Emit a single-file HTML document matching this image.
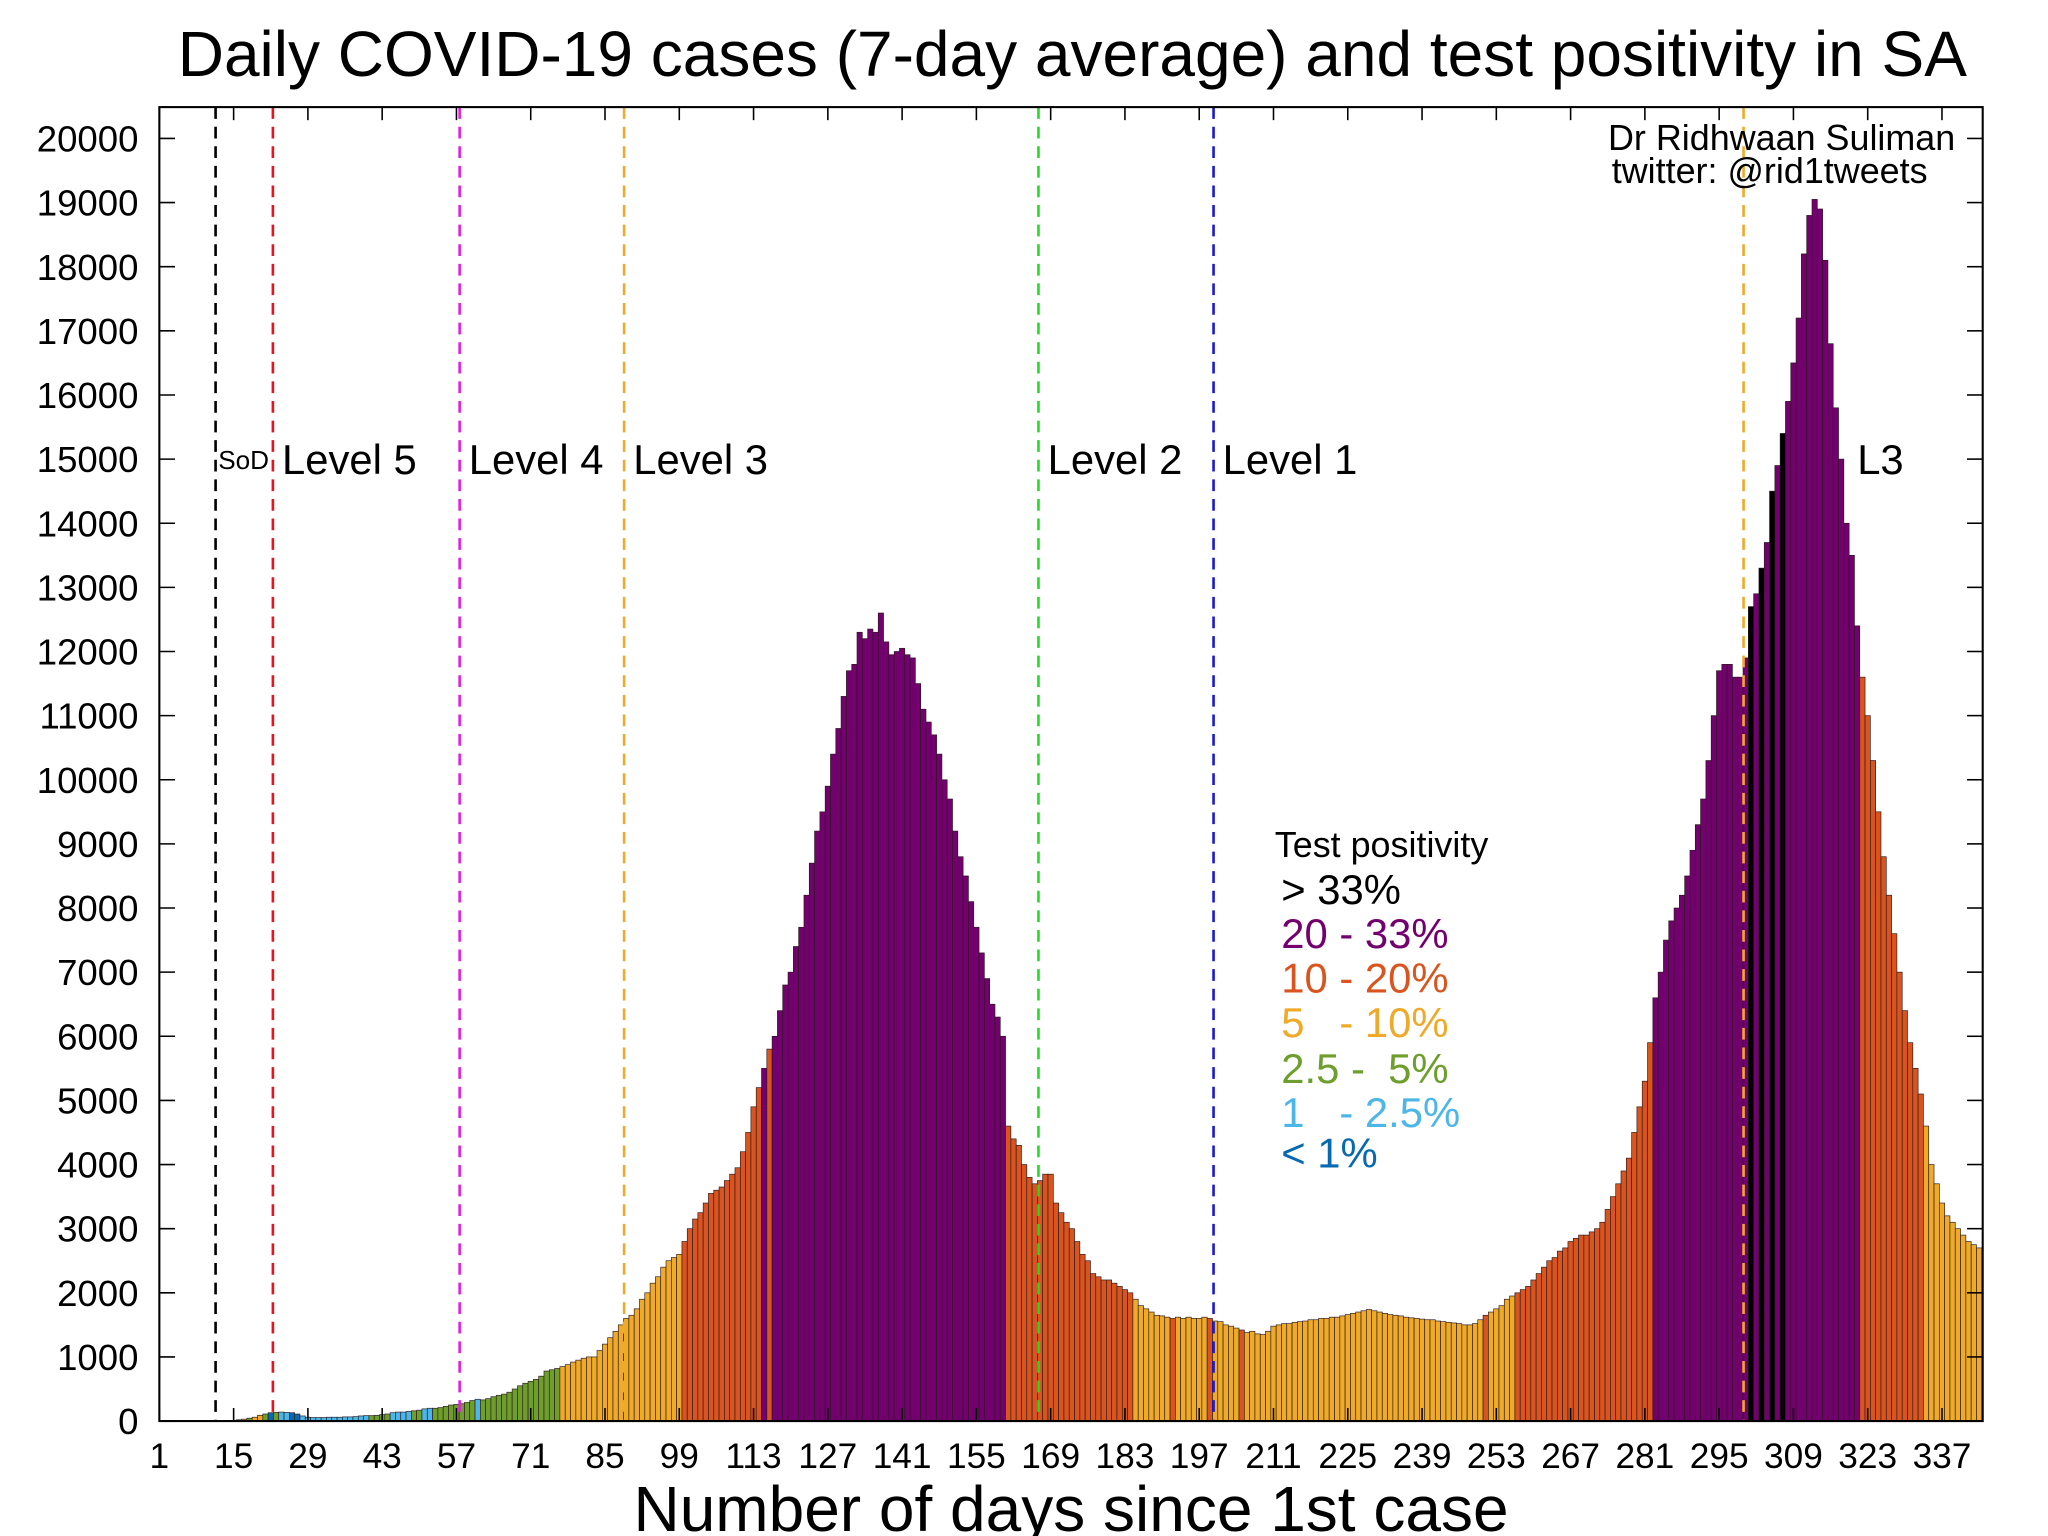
<!DOCTYPE html>
<html><head><meta charset="utf-8"><style>
html,body{margin:0;padding:0;background:#fff;}
svg{display:block;}
text{font-family:"Liberation Sans",sans-serif;fill:#000;}
</style></head><body>
<svg id="chart" width="2048" height="1536" viewBox="0 0 1568 1176" xmlns="http://www.w3.org/2000/svg">
<rect width="1568" height="1176" fill="#fff"/>
<text x="821" y="58" font-size="49" text-anchor="middle">Daily COVID-19 cases (7-day average) and test positivity in SA</text>
<g id="bars"></g>
<g id="vlines"></g>
<g id="axes"></g>
<text x="1497" y="115" font-size="27.5" text-anchor="end">Dr Ridhwaan Suliman</text>
<text x="1234" y="140" font-size="27.5">twitter: @rid1tweets</text>
<g font-size="32" style="white-space:pre">
<text x="976" y="656" font-size="27.5">Test positivity</text>
<text x="981" y="692" style="fill:#000">&gt; 33%</text>
<text x="981" y="726" style="fill:#73006e" xml:space="preserve">20 - 33%</text>
<text x="981" y="760" style="fill:#d9541e" xml:space="preserve">10 - 20%</text>
<text x="981" y="794" style="fill:#eeaa28" xml:space="preserve">5   - 10%</text>
<text x="981" y="829" style="fill:#6e9e2c" xml:space="preserve">2.5 -  5%</text>
<text x="981" y="863" style="fill:#4cb6e8" xml:space="preserve">1   - 2.5%</text>
<text x="981" y="894" style="fill:#0868b0" xml:space="preserve">&lt; 1%</text>
</g>
<text x="820" y="1172" font-size="49" text-anchor="middle">Number of days since 1st case</text>
</svg>
<script>
const cases = [0,0,0,0,0,0,0,0,0,0,0,0,5,5,10,20,30,45,60,90,110,130,135,140,135,130,110,80,60,55,
55,55,60,60,60,65,65,70,80,85,85,90,100,110,130,140,140,150,160,170,190,200,200,210,230,250,260,270,290,320,
340,330,350,380,400,420,450,500,550,590,620,650,700,780,800,820,850,880,920,950,980,1000,1000,1100,1200,1300,1400,1500,1600,1650,
1750,1900,2000,2150,2250,2400,2500,2550,2600,2800,3000,3150,3250,3400,3550,3600,3650,3750,3850,3950,4200,4500,4900,5200,5500,5800,6000,6400,6800,7000,
7400,7700,8200,8700,9200,9500,9900,10400,10800,11300,11700,11800,12300,12200,12350,12300,12600,12150,11950,12000,12050,11950,11900,11500,11100,10900,10700,10400,10000,9700,
9200,8800,8500,8100,7700,7300,6900,6500,6300,6000,4600,4400,4300,4000,3800,3700,3750,3850,3850,3400,3250,3100,3000,2800,2600,2500,2300,2250,2200,2200,
2150,2100,2050,2000,1900,1800,1750,1700,1650,1640,1620,1600,1620,1600,1620,1600,1600,1620,1600,1560,1550,1500,1480,1450,1420,1380,1400,1360,1350,1400,
1480,1500,1520,1520,1540,1550,1560,1580,1580,1600,1600,1620,1620,1640,1660,1680,1700,1720,1740,1720,1700,1680,1660,1650,1640,1620,1610,1600,1590,1580,
1580,1560,1550,1540,1530,1520,1500,1500,1520,1580,1650,1700,1750,1800,1900,1950,2000,2050,2100,2200,2300,2400,2500,2550,2650,2700,2800,2850,2900,2900,
2950,3000,3100,3300,3500,3700,3900,4100,4500,4900,5300,5900,6600,7000,7500,7800,8000,8200,8500,8900,9300,9700,10300,11000,11700,11800,11800,11600,11600,11900,
12700,12900,13300,13700,14500,14900,15400,15900,16500,17200,18200,18800,19050,18900,18100,16800,15800,15000,14000,13500,12400,11600,11000,10300,9500,8800,8200,7600,7000,6400,
5900,5500,5100,4600,4000,3700,3400,3200,3100,3000,2900,2800,2750,2700];
const colorRuns = [[1,17,'Y'],[18,18,'G'],[19,20,'Y'],[21,21,'G'],[22,22,'D'],[23,23,'G'],[24,25,'B'],[26,27,'D'],[28,40,'B'],[41,44,'G'],[45,48,'B'],[49,50,'G'],[51,52,'B'],[53,60,'G'],[61,61,'B'],[62,76,'G'],[77,99,'Y'],[100,114,'O'],[115,115,'P'],[116,116,'O'],[117,160,'P'],[161,184,'O'],[185,191,'Y'],[192,192,'O'],[193,198,'Y'],[199,199,'O'],[200,204,'Y'],[205,205,'O'],[206,250,'Y'],[251,251,'O'],[252,256,'Y'],[257,282,'O'],[283,300,'P'],[301,301,'K'],[302,302,'P'],[303,303,'K'],[304,304,'P'],[305,305,'K'],[306,306,'P'],[307,307,'K'],[308,321,'P'],[322,333,'O'],[334,344,'Y']];
const levelDays = [11.6, 22.4, 57.6, 88.6, 166.7, 199.7, 299.6];
const levelLabels = ['SoD','Level 5','Level 4','Level 3','Level 2','Level 1','L3'];
const yTicks = [0,1000,2000,3000,4000,5000,6000,7000,8000,9000,10000,11000,12000,13000,14000,15000,16000,17000,18000,19000,20000];
const xTicks = [1,15,29,43,57,71,85,99,113,127,141,155,169,183,197,211,225,239,253,267,281,295,309,323,337];

const palette = {K:'#000000',P:'#73006e',O:'#d9541e',Y:'#eeaa28',G:'#6e9e2c',B:'#4cb6e8',D:'#0868b0'};
const lineColors = ['#000000','#e8141c','#e020e0','#eeaa28','#22dd22','#1a1ad0','#eeaa28'];
const L=122,R=1518,T=82,B=1088;
const dayW=4.062;
function xs(d){return L+(d-1)*dayW;}
function ys(v){return B-(v/20000)*(B-106);}
const NS='http://www.w3.org/2000/svg';
function mk(tag,attrs,parent){const e=document.createElementNS(NS,tag);for(const k in attrs)e.setAttribute(k,attrs[k]);parent.appendChild(e);return e;}
const codes=[];
colorRuns.forEach(r=>{for(let d=r[0];d<=r[1];d++)codes[d]=r[2];});
const gb=document.getElementById('bars');
cases.forEach((v,i)=>{
  const d=i+1; if(v<=0) return;
  const x0=Math.max(L,xs(d)-dayW/2), x1=Math.min(R,xs(d)+dayW/2);
  const r=mk('rect',{x:x0,y:ys(v),width:x1-x0,height:B-ys(v),fill:palette[codes[d]||'Y'],stroke:'#2a1a20','stroke-width':0.5},gb);
  
  
});
const gv=document.getElementById('vlines');
levelDays.forEach((d,i)=>{
  const l=mk('line',{x1:xs(d),x2:xs(d),y1:T,y2:B,stroke:lineColors[i],'stroke-width':2,'stroke-dasharray':'9,6'},gv);
  
  
  const isSod=i===0, isL3=i===6;
  const t=mk('text',{x:isL3?xs(d)+87:xs(d)+(isSod?2:7),y:isSod?359:363,'font-size':isSod?20:32},gv);
  t.textContent=levelLabels[i];
  
  
});
const ga=document.getElementById('axes');
const frame=mk('rect',{x:L,y:T,width:R-L,height:B-T,fill:'none',stroke:'#000','stroke-width':1.6},ga);


yTicks.forEach(v=>{
  const y=ys(v);
  mk('line',{x1:L,x2:L+12,y1:y,y2:y,stroke:'#000','stroke-width':1.2},ga);
  mk('line',{x1:R-12,x2:R,y1:y,y2:y,stroke:'#000','stroke-width':1.2},ga);
  const t=mk('text',{x:106,y:y+10,'font-size':28,'text-anchor':'end'},ga);
  t.textContent=v;
  
  
});
xTicks.forEach(d=>{
  const x=xs(d);
  mk('line',{x1:x,x2:x,y1:B,y2:B-10,stroke:'#000','stroke-width':1.2},ga);
  mk('line',{x1:x,x2:x,y1:T,y2:T+10,stroke:'#000','stroke-width':1.2},ga);
  const t=mk('text',{x:x,y:1124,'font-size':27,'text-anchor':'middle'},ga);
  t.textContent=d;
  
  
});
</script>
</body></html>
